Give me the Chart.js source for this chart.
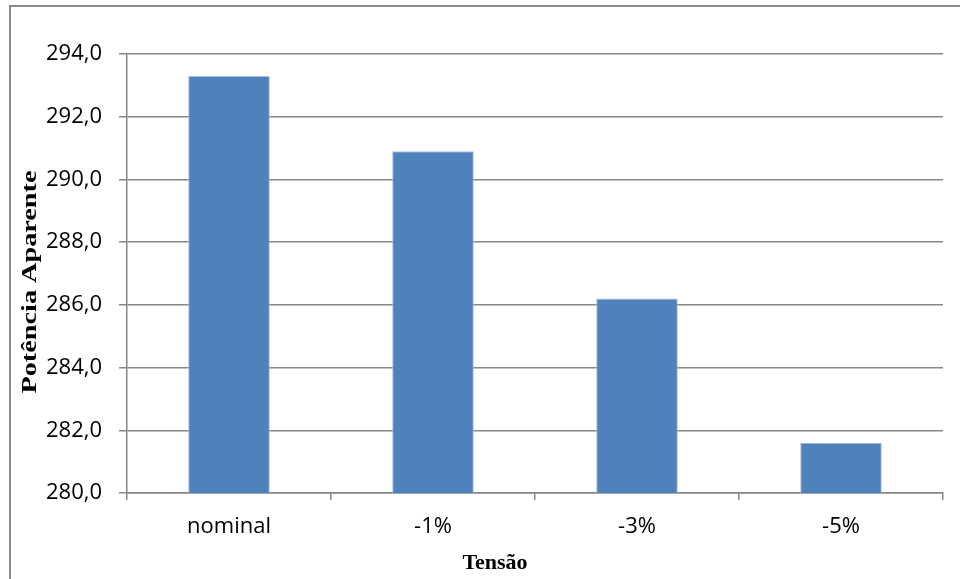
<!DOCTYPE html>
<html>
<head>
<meta charset="utf-8">
<script src="https://cdn.jsdelivr.net/npm/chart.js@4"></script>
<style>
  body { margin: 0; background: #fff; }
  canvas { display: block; }
</style>
</head>
<body>
<canvas id="grafico" width="960" height="579"></canvas>
<script>
// Dados do gráfico
var categorias = ['nominal', '-1%', '-3%', '-5%'];
var potencia = [293.3, 290.9, 286.2, 281.6];
var yMin = 280;
var yMax = 294;
var yPasso = 2;

var tituloX = 'Tensão';
var tituloY = 'Potência Aparente';

var cinza = '#868686';

// moldura e títulos dos eixos
var moldura = {
    id: 'moldura',
    beforeDraw: function(chart) {
        var ctx = chart.ctx;
        ctx.save();
        ctx.strokeStyle = '#8c8c8c';
        ctx.lineWidth = 2;
        ctx.beginPath();
        ctx.moveTo(10, 579);
        ctx.lineTo(10, 6);
        ctx.lineTo(960, 6);
        ctx.stroke();
        ctx.restore();
    },
    afterDraw: function(chart) {
        var ctx = chart.ctx;
        ctx.save();
        ctx.fillStyle = '#000';
        ctx.font = 'bold 22px "Liberation Serif", "Times New Roman", serif';
        ctx.textAlign = 'center';
        ctx.textBaseline = 'middle';
        ctx.fillText(tituloX, 495, 563);
        // o título vertical é mais esticado no original
        var larg = ctx.measureText(tituloY).width;
        ctx.translate(30, 282);
        ctx.rotate(-Math.PI / 2);
        ctx.scale(223 / larg, 1);
        ctx.fillText(tituloY, 0, 0);
        ctx.restore();
    }
};

var ctx = document.getElementById('grafico').getContext('2d');
var grafico = new Chart(ctx, {
    type: 'bar',
    data: {
        labels: categorias,
        datasets: [{
            data: potencia,
            backgroundColor: '#4f81bd',
            borderColor: '#a7bfde',
            borderWidth: 1,
            categoryPercentage: 1,
            barPercentage: 0.4
        }]
    },
    options: {
        responsive: false,
        animation: false,
        layout: {
            padding: { top: 54, right: 17, left: 0, bottom: 0 }
        },
        plugins: {
            legend: { display: false },
            tooltip: { enabled: false }
        },
        scales: {
            x: {
                afterFit: function(scale) { scale.height = 86; },
                grid: {
                    drawOnChartArea: false,
                    drawTicks: true,
                    tickLength: 7,
                    color: cinza,
                    lineWidth: 1.5
                },
                border: { color: cinza, width: 1.5 },
                ticks: {
                    color: '#000',
                    padding: 14,
                    font: { family: '"Open Sans", sans-serif', size: 22 }
                }
            },
            y: {
                min: yMin,
                max: yMax,
                afterFit: function(scale) { scale.width = 127; },
                grid: {
                    color: cinza,
                    lineWidth: 1.5,
                    tickLength: 8
                },
                border: { color: cinza, width: 1.5 },
                ticks: {
                    stepSize: yPasso,
                    color: '#000',
                    padding: 17,
                    font: { family: '"Open Sans", sans-serif', size: 22 },
                    callback: function(v) { return v.toFixed(1).replace('.', ','); }
                }
            }
        }
    },
    plugins: [moldura]
});
</script>
</body>
</html>
